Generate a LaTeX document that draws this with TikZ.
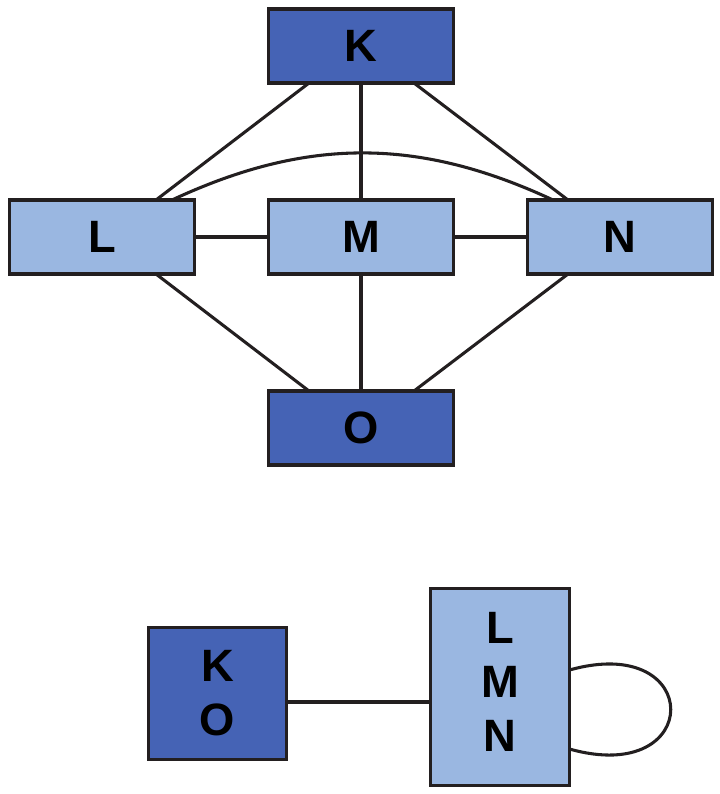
\documentclass[tikz,border=0pt]{standalone}
\usepackage{fontspec}
\setmainfont{Liberation Sans}
\usetikzlibrary{calc}
\definecolor{darkbox}{RGB}{69,99,181}
\definecolor{lightbox}{RGB}{154,183,225}
\definecolor{ink}{RGB}{35,31,32}
\tikzset{
  box/.style={draw=ink, line width=2.4pt, rectangle, inner sep=0pt, outer sep=0pt,
    font=\fontsize{34}{40.5}\selectfont\bfseries, align=center, text=black},
  wide/.style={box, minimum width=138.75pt, minimum height=55.5pt},
  dark/.style={fill=darkbox},
  light/.style={fill=lightbox},
  edge/.style={draw=ink, line width=2.3pt}
}
\begin{document}
\begin{tikzpicture}[x=0.75pt, y=-0.75pt]
\useasboundingbox (0,0) rectangle (719,794);
% top graph
\node[wide, dark]  (K) at (361,46)  {K};
\node[wide, light] (L) at (102,237) {L};
\node[wide, light] (M) at (361,237) {M};
\node[wide, light] (N) at (620,237) {N};
\node[wide, dark]  (O) at (361,428) {O};
\draw[edge] ($(K.south)+(-52,0)$) -- ($(L.north)+(54,0)$);
\draw[edge] ($(K.south)+(53,0)$) -- ($(N.north)+(-52,0)$);
\draw[edge] (K.south) -- (M.north);
\draw[edge] ($(O.north)+(-52,0)$) -- ($(L.south)+(54,0)$);
\draw[edge] ($(O.north)+(53,0)$) -- ($(N.south)+(-52,0)$);
\draw[edge] (M.south) -- (O.north);
\draw[edge] (L.east) -- (M.west);
\draw[edge] (M.east) -- (N.west);
\draw[edge] ($(L.north)+(70,0)$) to[bend left=25] ($(N.north)+(-67,0)$);
% bottom graph
\node[box, dark, minimum width=103.5pt, minimum height=99pt] (KO) at (217.5,693.5) {K\\O};
\node[box, light, minimum width=104.25pt, minimum height=147.75pt] (LMN) at (500,687) {L\\M\\N\vphantom{g}};
\draw[edge] ($(KO.east)+(0,8.5)$) coordinate (kl) -- (kl -| LMN.west);
\draw[edge] ($(LMN.east)+(0,-17)$) .. controls +(135,-38) and +(135,38) .. ($(LMN.east)+(0,62)$);
\end{tikzpicture}
\end{document}
